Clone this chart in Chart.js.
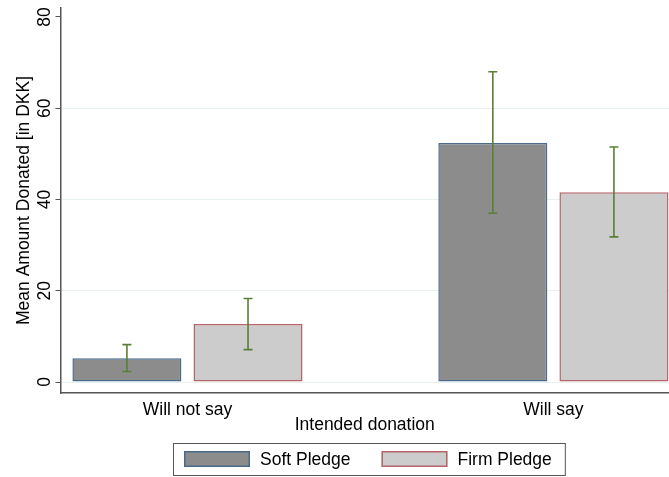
<!DOCTYPE html>
<html>
<head>
<meta charset="utf-8">
<script src="https://cdn.jsdelivr.net/npm/chart.js@4.4.0/dist/chart.umd.min.js"></script>
<style>
  html, body { margin: 0; padding: 0; background: #fff; }
  #wrap { width: 669px; height: 477px; }
</style>
</head>
<body>
<div id="wrap"><canvas id="chart"></canvas></div>
<script>
const categories = ['Will not say', 'Will say'];
const seriesNames = ['Soft Pledge', 'Firm Pledge'];
const softMean = [5.2, 52.4];
const softLow = [2.3, 37.0];
const softHigh = [8.2, 68.0];
const firmMean = [12.7, 41.6];
const firmLow = [7.1, 31.8];
const firmHigh = [18.3, 51.5];
const yTicks = [0, 20, 40, 60, 80];

const FONT = "'Liberation Sans', Arial, sans-serif";
const FONT_SIZE = 17.5;

// error bars drawn on top of the bars, read from dataset.errLow / errHigh
const errorBars = {
  id: 'errorBars',
  afterDatasetsDraw(chart) {
    const ctx = chart.ctx;
    const y = chart.scales.y;
    chart.data.datasets.forEach((ds, i) => {
      const meta = chart.getDatasetMeta(i);
      meta.data.forEach((bar, j) => {
        const top = y.getPixelForValue(ds.errHigh[j]);
        const bot = y.getPixelForValue(ds.errLow[j]);
        ctx.save();
        ctx.strokeStyle = '#5b7f34';
        ctx.lineWidth = 1.6;
        ctx.beginPath();
        ctx.moveTo(bar.x, top); ctx.lineTo(bar.x, bot);
        ctx.moveTo(bar.x - 4.5, top); ctx.lineTo(bar.x + 4.5, top);
        ctx.moveTo(bar.x - 4.5, bot); ctx.lineTo(bar.x + 4.5, bot);
        ctx.stroke();
        ctx.restore();
      });
    });
  }
};

// boxed legend centred under the plot
const boxLegend = {
  id: 'boxLegend',
  afterDraw(chart) {
    const ctx = chart.ctx;
    const area = chart.chartArea;
    ctx.save();
    ctx.font = FONT_SIZE + 'px ' + FONT;
    const sw = 66, sh = 16, gap = 10, itemGap = 31, padL = 11, padR = 13;
    const widths = chart.data.datasets.map(ds => ctx.measureText(ds.label).width);
    const total = padL + padR + widths.reduce((s, w) => s + sw + gap + w, 0) + itemGap * (widths.length - 1);
    const left = Math.round((area.left + area.right) / 2 - total / 2) + 4;
    const top = 443, h = 32;
    ctx.strokeStyle = '#555';
    ctx.lineWidth = 1;
    ctx.strokeRect(left + 0.5, top + 0.5, total, h);
    let x = left + padL;
    const cy = top + h / 2;
    chart.data.datasets.forEach((ds, i) => {
      ctx.fillStyle = ds.backgroundColor;
      ctx.fillRect(x, cy - sh / 2, sw, sh);
      ctx.strokeStyle = ds.borderColor;
      ctx.lineWidth = 1.5;
      ctx.strokeRect(x + 0.75, cy - sh / 2 + 0.75, sw - 1.5, sh - 1.5);
      x += sw + gap;
      ctx.fillStyle = '#000';
      ctx.textBaseline = 'middle';
      ctx.fillText(ds.label, x, cy + 1);
      x += widths[i] + itemGap;
    });
    ctx.restore();
  }
};

new Chart(document.getElementById('chart'), {
  type: 'bar',
  data: {
    datasets: [
      {
        label: seriesNames[0],
        data: softMean.map((v, i) => ({ x: i, y: v })),
        errLow: softLow,
        errHigh: softHigh,
        backgroundColor: '#8c8c8c',
        borderColor: '#4a6a8a',
        borderWidth: 1.5,
        borderSkipped: false
      },
      {
        label: seriesNames[1],
        data: firmMean.map((v, i) => ({ x: i, y: v })),
        errLow: firmLow,
        errHigh: firmHigh,
        backgroundColor: '#cccccc',
        borderColor: '#b5646a',
        borderWidth: 1.5,
        borderSkipped: false
      }
    ]
  },
  options: {
    responsive: true,
    maintainAspectRatio: false,
    animation: false,
    categoryPercentage: 0.662,
    barPercentage: 0.9,
    layout: { padding: { top: 0, right: 0, bottom: 41.5, left: 14 } },
    scales: {
      x: {
        type: 'linear',
        offset: false,
        min: -0.347,
        max: 1.316,
        afterBuildTicks: scale => { scale.ticks = categories.map((_, i) => ({ value: i })); },
        // squeeze the axis title up against the tick labels, as in the original
        afterFit: scale => { scale.height = 42.5; },
        ticks: {
          callback: v => categories[v],
          color: '#000',
          font: { family: FONT, size: FONT_SIZE },
          padding: 6.5,
          maxRotation: 0
        },
        grid: { display: false, drawTicks: false },
        border: { display: true, color: '#555', width: 1.5 },
        title: {
          display: true,
          text: 'Intended donation',
          color: '#000',
          font: { family: FONT, size: FONT_SIZE },
          padding: 0
        }
      },
      y: {
        min: -2.41,
        max: 81.97,
        afterBuildTicks: scale => { scale.ticks = yTicks.map(v => ({ value: v })); },
        afterFit: scale => { scale.paddingTop = 8; },
        ticks: {
          color: '#000',
          font: { family: FONT, size: FONT_SIZE },
          minRotation: 90,
          maxRotation: 90,
          crossAlign: 'center',
          padding: 0.5
        },
        grid: {
          color: c => c.tick && c.tick.value === 80 ? 'rgba(0,0,0,0)' : '#e8f0f1',
          tickColor: '#555',
          tickLength: 5
        },
        border: { display: true, color: '#555', width: 1.5 },
        title: {
          display: true,
          text: 'Mean Amount Donated [in DKK]',
          color: '#000',
          font: { family: FONT, size: FONT_SIZE },
          padding: { top: 0, bottom: -1.5 }
        }
      }
    },
    plugins: {
      legend: { display: false },
      tooltip: { enabled: false }
    }
  },
  plugins: [errorBars, boxLegend]
});
</script>
</body>
</html>
